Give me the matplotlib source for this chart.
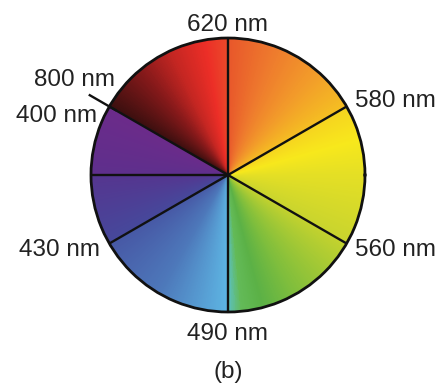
import numpy as np
import matplotlib
matplotlib.use("Agg")
import matplotlib.pyplot as plt
from matplotlib.colors import LinearSegmentedColormap

plt.rcParams['font.family'] = ['Liberation Sans', 'DejaVu Sans']

# spoke angles (deg, counter-clockwise from east)
spoke_angles = [30, 90, 150, 180, 210, 270, 330]

# colour stops along the wheel (angle in degrees, colour)
stop_angles = [0, 15, 29.9, 30.1, 50, 70, 89.9, 90.1, 100, 115, 130, 149.9,
               150.1, 179.9, 180.1, 209.9, 210.1, 240, 269.9, 270.1, 276, 285,
               300, 329.9, 330.1, 360]
stop_colors = ['#E4DF25', '#F7E81C', '#F6D41F', '#F5BF22', '#F29B2A', '#EE7A2D',
               '#E8572B', '#EA4A2A', '#EC2E27', '#C42622', '#85191A', '#3C0F0F',
               '#6C2B8A', '#5E2F8C', '#55358F', '#46489B', '#4758A5', '#4D78BA',
               '#5DB4E2', '#5CC0C6', '#63BA58', '#5BB146', '#80BE3C', '#C3D22E',
               '#C8D42E', '#E4DF25']

fig = plt.figure(figsize=(4.4, 3.87), dpi=100)
ax = fig.add_axes([0.2068, 0.1938, 0.6227, 0.708], projection='polar')

cmap = LinearSegmentedColormap.from_list(
    'wheel', [(a / 360, c) for a, c in zip(stop_angles, stop_colors)], N=1024)

theta_edges = np.linspace(0, 2 * np.pi, 1441)
r_edges = np.array([0, 1])
T, R = np.meshgrid(theta_edges, r_edges)
mid = np.degrees(0.5 * (theta_edges[:-1] + theta_edges[1:]))[None, :]
ax.pcolormesh(T, R, mid, cmap=cmap, vmin=0, vmax=360, shading='flat',
              antialiased=False, edgecolors='none', rasterized=True)

for a in spoke_angles:
    ax.plot([np.radians(a)] * 2, [0, 1], color='#111111', lw=1.7)
# extended leader for 800/400 nm
ax.plot([np.radians(150)] * 2, [0.95, 1.165], color='#111111', lw=1.7,
        clip_on=False)

ax.set_ylim(0, 1)
ax.set_xticks([])
ax.set_yticks([])
ax.grid(False)
ax.spines['polar'].set_linewidth(2.0)
ax.spines['polar'].set_color('#111111')

fs = 17.5
tc = '#222222'
kw = dict(fontsize=fs, color=tc, va='center_baseline', clip_on=False)
ax.text(np.radians(90), 1.11, '620 nm', ha='center', **kw)
ax.text(np.radians(31.2), 1.084, '580 nm', ha='left', **kw)
ax.text(np.radians(-29.6), 1.066, '560 nm', ha='left', **kw)
ax.text(np.radians(270), 1.146, '490 nm', ha='center', **kw)
ax.text(np.radians(209.4), 1.072, '430 nm', ha='right', **kw)
ax.text(np.radians(139.1), 1.092, '800 nm', ha='right', **kw)
ax.text(np.radians(154.7), 1.058, '400 nm', ha='right', **kw)

fig.text(228 / 440, 1 - 372 / 387, '(b)', ha='center', va='center',
         fontsize=fs, color=tc)

fig.savefig('out.png', dpi=100)
